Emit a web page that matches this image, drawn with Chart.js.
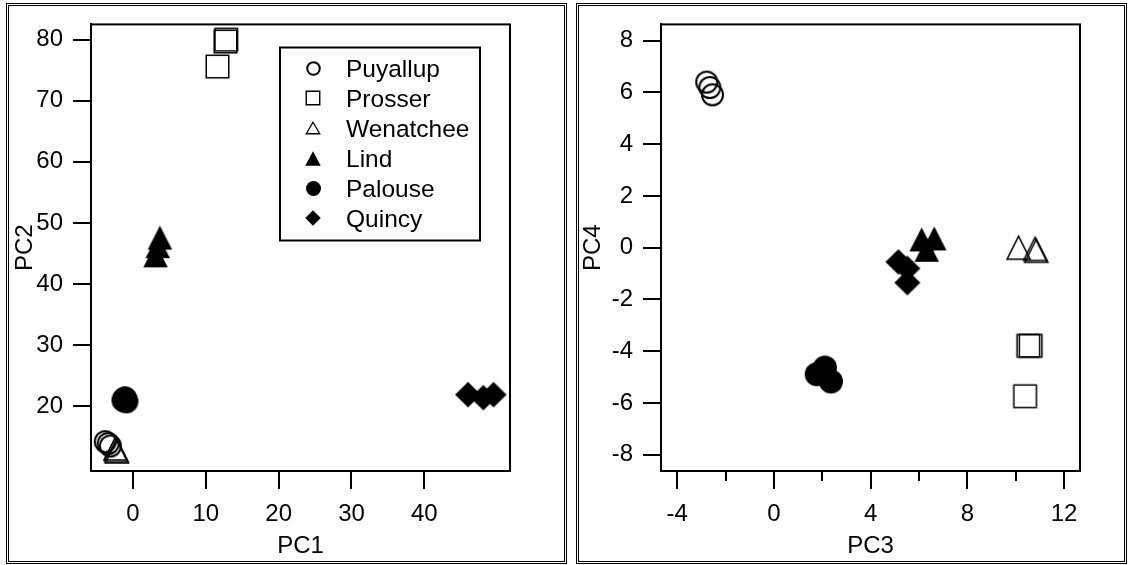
<!DOCTYPE html>
<html>
<head>
<meta charset="utf-8">
<script src="https://cdn.jsdelivr.net/npm/chart.js@4.4.0/dist/chart.umd.min.js"></script>
<style>
  html, body { margin: 0; padding: 0; background: #fff; }
  #wrap { position: relative; width: 1128px; height: 565px; overflow: hidden; background: #fff; }
  canvas { position: absolute; top: 0; }
  #pc12 { left: 0; }
  #pc34 { left: 564px; }
  .frame { position: absolute; box-sizing: border-box; border: 3px double #000; pointer-events: none; }
</style>
</head>
<body>
<div id="wrap">
  <canvas id="pc12" width="564" height="565"></canvas>
  <canvas id="pc34" width="564" height="565"></canvas>
  <div class="frame" style="left:6px;top:3px;width:561px;height:561px"></div>
  <div class="frame" style="left:576px;top:3px;width:551px;height:561px"></div>
</div>
<script>
// Sampling sites, in legend order
const sites = ['Puyallup', 'Prosser', 'Wenatchee', 'Lind', 'Palouse', 'Quincy'];

// Principal component scores, PC1 vs PC2  [x, y]
const puyallupPC12  = [[-3.8, 14.2], [-3.4, 13.9], [-3.1, 13.5]];
const prosserPC12   = [[12.7, 79.7], [12.8, 80.0], [11.6, 75.6]];
const wenatcheePC12 = [[-2.4, 13.1], [-2.2, 12.6], [-2.3, 12.8]];
const lindPC12      = [[3.7, 47.6], [3.4, 46.2], [3.1, 44.7]];
const palousePC12   = [[-1.3, 21.0], [-0.9, 20.8], [-1.1, 21.3]];
const quincyPC12    = [[46.0, 21.9], [48.1, 21.4], [49.5, 21.9]];

// Principal component scores, PC3 vs PC4  [x, y]
const puyallupPC34  = [[-2.78, 6.40], [-2.65, 6.19], [-2.54, 5.91]];
const prosserPC34   = [[10.52, -3.79], [10.62, -3.79], [10.39, -5.74]];
const wenatcheePC34 = [[10.12, 0.00], [10.80, -0.05], [10.85, -0.12]];
const lindPC34      = [[6.11, 0.32], [6.63, 0.36], [6.32, -0.08]];
const palousePC34   = [[2.11, -4.63], [1.77, -4.89], [2.36, -5.17]];
const quincyPC34    = [[5.15, -0.55], [5.52, -0.80], [5.52, -1.35]];

// Axis ticks
const pc1Ticks = [0, 10, 20, 30, 40];
const pc2Ticks = [20, 30, 40, 50, 60, 70, 80];
const pc3Ticks = [-4, 0, 4, 8, 12];
const pc3MinorTicks = [-2, 2, 6, 10];
const pc4Ticks = [-8, -6, -4, -2, 0, 2, 4, 6, 8];

const FONT_FAMILY = '"Liberation Sans", Arial, Helvetica, sans-serif';
const FONT = { family: FONT_FAMILY, size: 24 };
Chart.defaults.font.family = FONT_FAMILY;
Chart.defaults.color = '#000';

// Marker glyphs rendered once onto small canvases
function marker(shape, filled, w, h, lw) {
  const pad = 2;
  const c = document.createElement('canvas');
  c.width = Math.ceil(w + pad * 2);
  c.height = Math.ceil(h + pad * 2);
  const g = c.getContext('2d');
  const cx = c.width / 2, cy = c.height / 2;
  g.beginPath();
  if (shape === 'circle') {
    g.arc(cx, cy, w / 2, 0, Math.PI * 2);
  } else if (shape === 'square') {
    g.rect(cx - w / 2, cy - h / 2, w, h);
  } else if (shape === 'triangle') {
    g.moveTo(cx, cy - h / 2);
    g.lineTo(cx + w / 2, cy + h / 2);
    g.lineTo(cx - w / 2, cy + h / 2);
    g.closePath();
  } else if (shape === 'diamond') {
    g.moveTo(cx, cy - h / 2);
    g.lineTo(cx + w / 2, cy);
    g.lineTo(cx, cy + h / 2);
    g.lineTo(cx - w / 2, cy);
    g.closePath();
  }
  if (filled) {
    g.fillStyle = '#000';
    g.fill();
  } else {
    g.lineWidth = lw;
    g.strokeStyle = '#000';
    g.stroke();
  }
  return c;
}

const plotMarkers = {
  Puyallup:  marker('circle', false, 21, 21, 2),
  Prosser:   marker('square', false, 22.5, 22.5, 1.5),
  Wenatchee: marker('triangle', false, 23, 23, 1.6),
  Lind:      marker('triangle', true, 24.5, 24),
  Palouse:   marker('circle', true, 24, 24),
  Quincy:    marker('diamond', true, 26, 25.5)
};
const keyMarkers = {
  Puyallup:  marker('circle', false, 12.5, 12.5, 2),
  Prosser:   marker('square', false, 13.5, 13.5, 1.4),
  Wenatchee: marker('triangle', false, 13.5, 11.5, 1.3),
  Lind:      marker('triangle', true, 15.5, 14.5),
  Palouse:   marker('circle', true, 15, 15),
  Quincy:    marker('diamond', true, 15.5, 15.5)
};

function buildDatasets(groups) {
  return sites.map((name, i) => ({
    label: name,
    data: groups[i].map(p => ({ x: p[0], y: p[1] })),
    pointStyle: plotMarkers[name],
    pointRadius: 12,
    pointHoverRadius: 12,
    showLine: false,
    clip: false
  }));
}

// Closed frame around the plotting area
const plotBox = {
  id: 'plotBox',
  afterDraw(chart) {
    const a = chart.chartArea, ctx = chart.ctx;
    ctx.save();
    ctx.strokeStyle = '#000';
    ctx.lineWidth = 2;
    ctx.strokeRect(a.left, a.top, a.right - a.left, a.bottom - a.top);
    ctx.restore();
  }
};

// Short unlabelled ticks between the major ones on the x axis
const minorTicks = {
  id: 'minorTicks',
  afterDraw(chart, args, opts) {
    if (!opts.values || !opts.values.length) return;
    const xs = chart.scales.x, a = chart.chartArea, ctx = chart.ctx;
    ctx.save();
    ctx.strokeStyle = '#000';
    ctx.lineWidth = 2;
    ctx.beginPath();
    opts.values.forEach(v => {
      const px = Math.round(xs.getPixelForValue(v));
      ctx.moveTo(px, a.bottom);
      ctx.lineTo(px, a.bottom + opts.length);
    });
    ctx.stroke();
    ctx.restore();
  }
};

// Boxed site key drawn inside the PC1/PC2 plot
const siteKey = {
  id: 'siteKey',
  afterDraw(chart, args, opts) {
    if (!opts.show) return;
    const ctx = chart.ctx;
    ctx.save();
    ctx.strokeStyle = '#000';
    ctx.lineWidth = 2;
    ctx.strokeRect(opts.x, opts.y, opts.w, opts.h);
    ctx.font = '24.5px ' + FONT_FAMILY;
    ctx.fillStyle = '#000';
    ctx.textAlign = 'left';
    ctx.textBaseline = 'alphabetic';
    chart.data.datasets.forEach((ds, i) => {
      const cy = opts.firstRow + i * opts.rowStep;
      const m = keyMarkers[ds.label];
      ctx.drawImage(m, Math.round(opts.markerX - m.width / 2), Math.round(cy - m.height / 2));
      ctx.fillText(ds.label, opts.textX, cy + 8.5);
    });
    ctx.restore();
  }
};

function axis(pos, range, ticks, title, size, titlePad, tickPad) {
  const horizontal = pos === 'bottom';
  return {
    type: 'linear',
    position: pos,
    min: range[0],
    max: range[1],
    afterBuildTicks: s => { s.ticks = ticks.map(v => ({ value: v })); },
    afterFit: s => { if (horizontal) s.height = size; else s.width = size; },
    ticks: {
      color: '#000',
      font: FONT,
      padding: tickPad,
      autoSkip: false,
      maxRotation: 0,
      minRotation: 0,
      callback: v => String(v)
    },
    grid: {
      display: true,
      drawOnChartArea: false,
      drawTicks: true,
      tickLength: 18,
      lineWidth: 2,
      tickWidth: 2,
      color: '#000',
      tickColor: '#000'
    },
    border: { display: true, color: '#000', width: 2 },
    title: {
      display: true,
      text: title,
      color: '#000',
      font: FONT,
      padding: horizontal ? { top: 0, bottom: titlePad } : { top: titlePad, bottom: 0 }
    }
  };
}

function makeChart(id, groups, cfg) {
  return new Chart(document.getElementById(id), {
    type: 'scatter',
    data: { datasets: buildDatasets(groups) },
    options: {
      responsive: false,
      devicePixelRatio: 1,
      animation: false,
      events: [],
      layout: { padding: { left: 0, top: 19, right: cfg.padRight, bottom: 0 } },
      scales: {
        x: axis('bottom', cfg.xRange, cfg.xTicks, cfg.xTitle, 94, 4, 11),
        y: axis('left', cfg.yRange, cfg.yTicks, cfg.yTitle, cfg.yAxisWidth, cfg.yTitlePad, 10)
      },
      plugins: {
        legend: { display: false },
        tooltip: { enabled: false },
        minorTicks: { values: cfg.minor || [], length: 10 },
        siteKey: cfg.key || { show: false }
      }
    },
    plugins: [plotBox, minorTicks, siteKey]
  });
}

makeChart('pc12',
  [puyallupPC12, prosserPC12, wenatcheePC12, lindPC12, palousePC12, quincyPC12],
  {
    xRange: [-5.76, 51.76], yRange: [9.4, 82.5],
    xTicks: pc1Ticks, yTicks: pc2Ticks,
    xTitle: 'PC1', yTitle: 'PC2',
    yAxisWidth: 91, yTitlePad: 10.5, padRight: 54,
    key: { show: true, x: 280, y: 47.5, w: 200, h: 193, markerX: 313, textX: 346, firstRow: 68.3, rowStep: 30 }
  });

makeChart('pc34',
  [puyallupPC34, prosserPC34, wenatcheePC34, lindPC34, palousePC34, quincyPC34],
  {
    xRange: [-4.67, 12.66], yRange: [-8.63, 8.63],
    xTicks: pc3Ticks, yTicks: pc4Ticks, minor: pc3MinorTicks,
    xTitle: 'PC3', yTitle: 'PC4',
    yAxisWidth: 97, yTitlePad: 15, padRight: 48
  });
</script>
</body>
</html>
